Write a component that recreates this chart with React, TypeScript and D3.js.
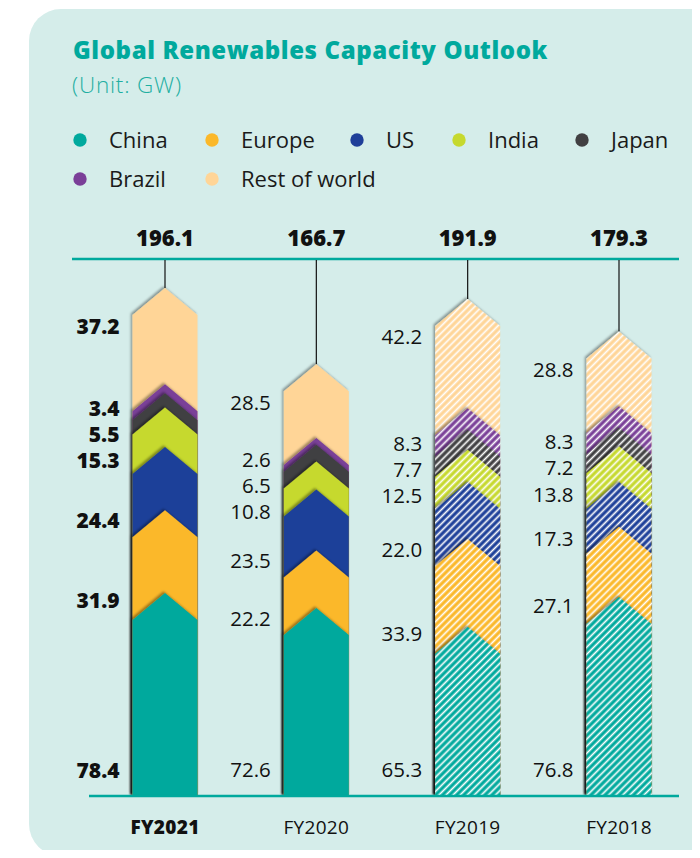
import React from "react";
import * as d3 from "d3";

const years = ["FY2021", "FY2020", "FY2019", "FY2018"];
const hatchedYears = ["FY2019", "FY2018"];
const regions = ["China", "Europe", "US", "India", "Japan", "Brazil", "Rest of world"];
const china = [78.4, 72.6, 65.3, 76.8];
const europe = [31.9, 22.2, 33.9, 27.1];
const us = [24.4, 23.5, 22.0, 17.3];
const india = [15.3, 10.8, 12.5, 13.8];
const japan = [5.5, 6.5, 7.7, 7.2];
const brazil = [3.4, 2.6, 8.3, 8.3];
const restOfWorld = [37.2, 28.5, 42.2, 28.8];
const totals = [196.1, 166.7, 191.9, 179.3];
const colors = ["#00A99D", "#FBB829", "#1F3F99", "#C6D92E", "#414042", "#7A3F98", "#FFD597"];

const W = 700;
const H = 858;
const BASE = 796;
const TOPLINE = 259;
const BAR_W = 65;
const CHEV = 27;
const FONT = "'Open Sans', 'Noto Sans', sans-serif";

export default function App() {
  const seriesVals = [china, europe, us, india, japan, brazil, restOfWorld];
  const table = years.map((yr, i) => {
    const row: any = { year: yr };
    regions.forEach((r, k) => (row[r] = seriesVals[k][i]));
    return row;
  });
  const stacked = d3.stack().keys(regions)(table);

  const y = d3.scaleLinear().domain([0, 196.1]).range([BASE, 288]);
  const x = d3.scalePoint().domain(years).range([165, 619]);

  const legendRows = [
    [0, 1, 2, 3, 4],
    [5, 6],
  ];
  const legendX = [80, 212, 357, 459, 582];

  return (
    <div style={{ margin: -8, width: W, height: H, overflow: "hidden", background: "#fff" }}>
      <svg width={W} height={H} style={{ display: "block" }}>
        <defs>
          {colors.map((c, k) => (
            <pattern
              key={k}
              id={`hatch${k}`}
              patternUnits="userSpaceOnUse"
              width={5}
              height={5}
              patternTransform="rotate(45)"
            >
              <rect width={5} height={5} fill={c} />
              <line x1={2.5} y1={0} x2={2.5} y2={5} stroke="#fff" strokeWidth={1.7} />
            </pattern>
          ))}
          <filter id="shade" x="-20%" y="-20%" width="140%" height="140%">
            <feDropShadow dx={-1.6} dy={-1.6} stdDeviation={0.9} floodColor="#000" floodOpacity={0.38} />
          </filter>
        </defs>

        <rect x={29} y={9} width={720} height={847} rx={32} fill="#D5EDEA" />

        <text x={73} y={59} fontFamily={FONT} fontWeight={800} fontSize={24} letterSpacing={0.6} fill="#00A99D">
          Global Renewables Capacity Outlook
        </text>
        <text x={72} y={93} fontFamily={FONT} fontWeight={300} fontSize={22.5} letterSpacing={0.8} fill="#1FAFA2">
          (Unit: GW)
        </text>

        {legendRows.map((row, ri) =>
          row.map((k, ci) => (
            <g key={k}>
              <circle cx={legendX[ci]} cy={140 + ri * 39} r={6.7} fill={colors[k]} />
              <text
                x={legendX[ci] + 29}
                y={140 + ri * 39}
                dy="0.36em"
                fontFamily={FONT}
                fontSize={22}
                fill="#1a1a1a"
              >
                {regions[k]}
              </text>
            </g>
          ))
        )}

        <line x1={72} x2={679} y1={TOPLINE} y2={TOPLINE} stroke="#00A99D" strokeWidth={2.5} />

        {years.map((yr, i) => {
          const cx = x(yr) as number;
          const x0 = cx - BAR_W / 2;
          const x1 = cx + BAR_W / 2;
          const hatched = hatchedYears.includes(yr);
          const bold = i === 0;
          const tipY = y(totals[i]);

          // label layout
          const labelY: number[] = regions.map((_, k) => {
            const seg = stacked[k][i];
            if (k === 0) return y(0) - 26;
            if (k === regions.length - 1) return y(seg[1]) + 38;
            return y(seg[0] + 0.1 * (seg[1] - seg[0])) + 16;
          });
          for (let k = regions.length - 3; k >= 1; k--) {
            labelY[k] = Math.max(labelY[k], labelY[k + 1] + 26);
          }

          return (
            <g key={yr}>
              <line x1={cx} x2={cx} y1={TOPLINE + 1} y2={tipY} stroke="#111" strokeWidth={1.2} />
              <text
                x={cx}
                y={246}
                textAnchor="middle"
                fontFamily={FONT}
                fontWeight={800}
                fontSize={22}
                fill="#111"
              >
                {totals[i].toFixed(1)}
              </text>
              {regions
                .map((_, k) => k)
                .reverse()
                .map((k) => {
                  const top = y(stacked[k][i][1]);
                  const pts: [number, number][] = [
                    [x0, BASE],
                    [x0, top + CHEV],
                    [cx, top],
                    [x1, top + CHEV],
                    [x1, BASE],
                  ];
                  return (
                    <path
                      key={k}
                      d={d3.line()(pts) + "Z"}
                      fill={hatched ? `url(#hatch${k})` : colors[k]}
                      filter="url(#shade)"
                    />
                  );
                })}
              {regions.map((_, k) => (
                <text
                  key={k}
                  x={x0 - 13}
                  y={labelY[k]}
                  dy="0.36em"
                  textAnchor="end"
                  fontFamily={FONT}
                  fontWeight={bold ? 800 : 400}
                  fontSize={bold ? 21 : 20.5}
                  fill="#111"
                >
                  {seriesVals[k][i].toFixed(1)}
                </text>
              ))}
              <text
                x={cx}
                y={834}
                textAnchor="middle"
                fontFamily={FONT}
                fontWeight={bold ? 800 : 400}
                fontSize={19}
                letterSpacing={0.3}
                fill="#111"
              >
                {yr}
              </text>
            </g>
          );
        })}

        <line x1={89} x2={679} y1={BASE} y2={BASE} stroke="#00A99D" strokeWidth={2.5} />
      </svg>
    </div>
  );
}
